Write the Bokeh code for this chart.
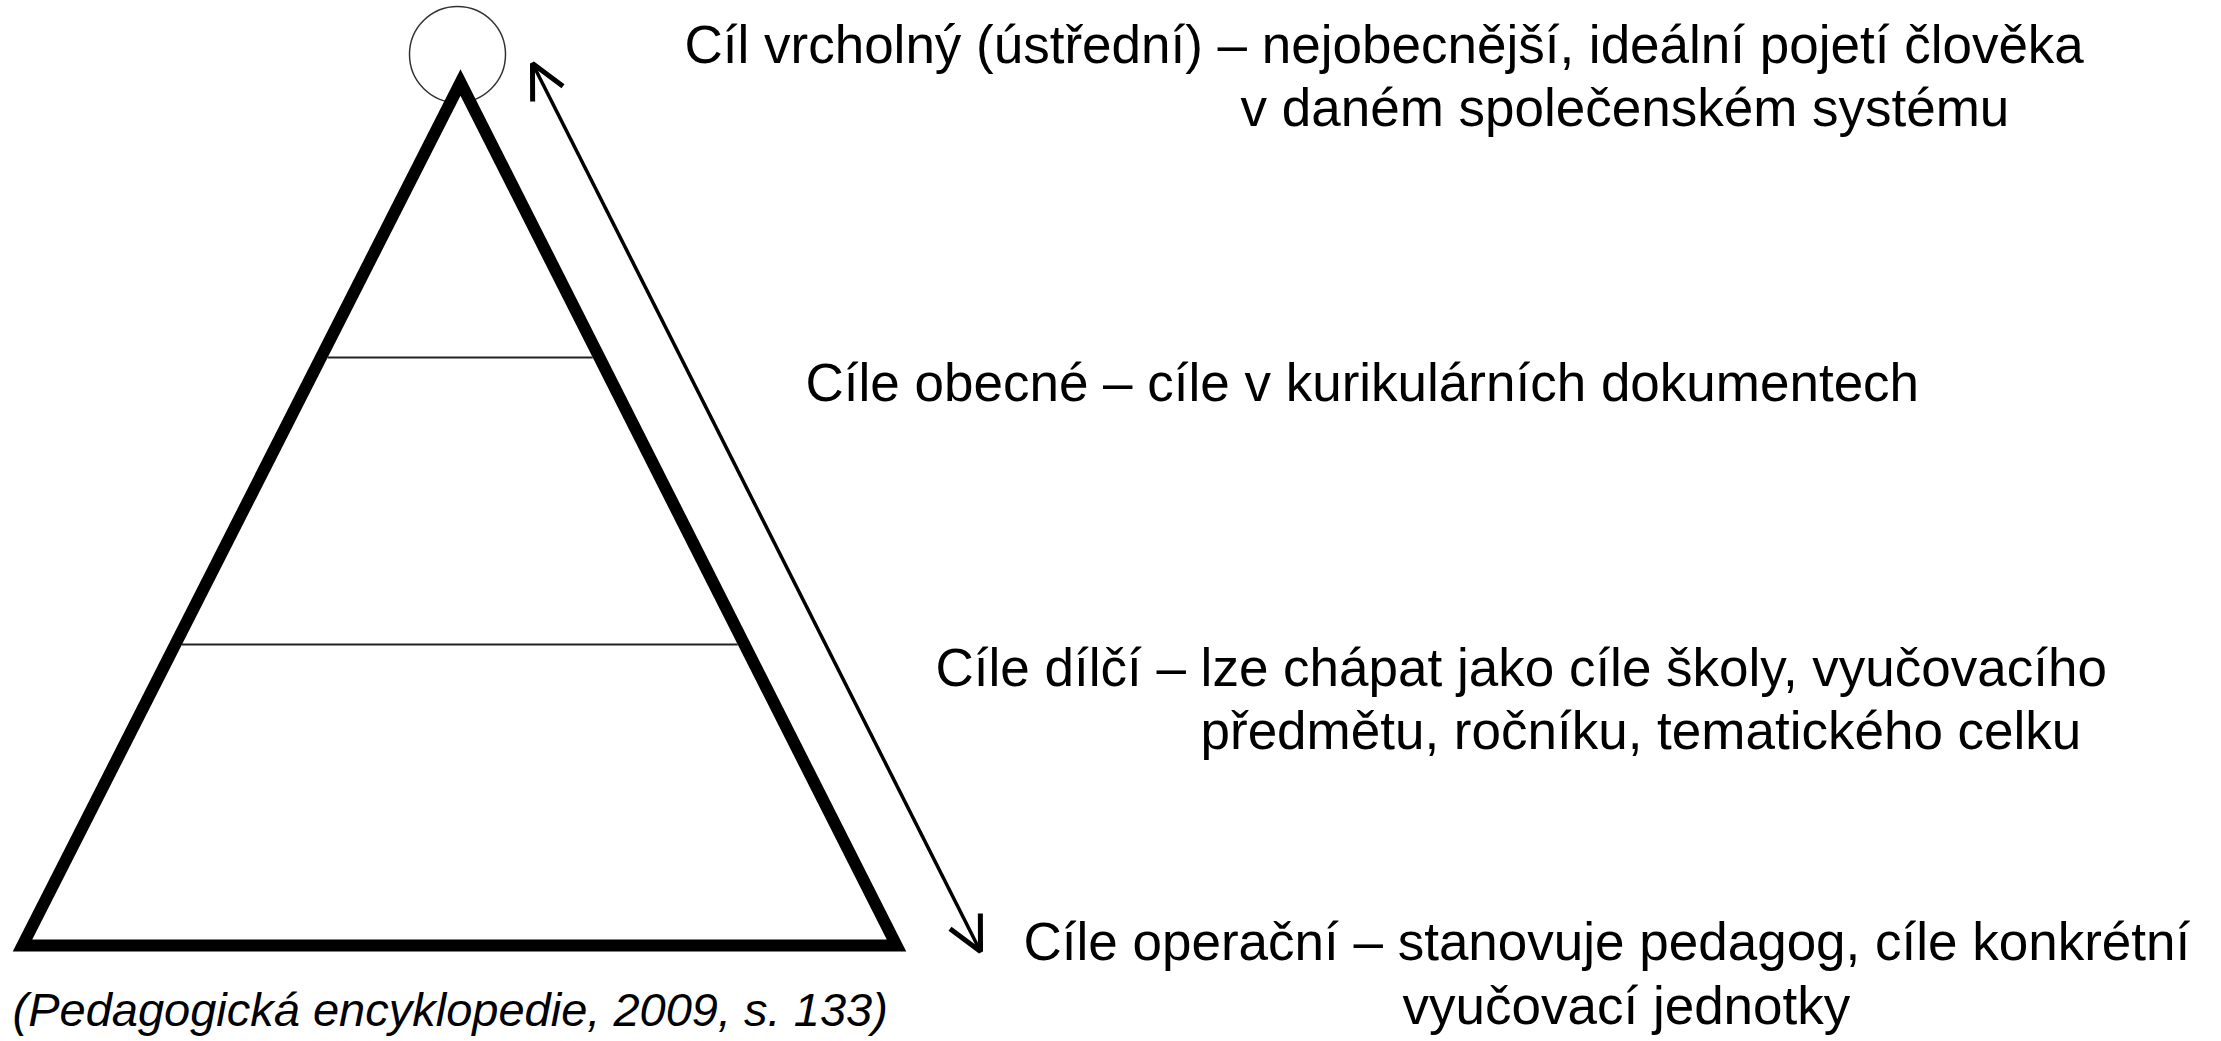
import math
from bokeh.plotting import figure
from bokeh.models import Range1d, Arrow, OpenHead
from bokeh.core.properties import value
from bokeh.embed import file_html
from bokeh.resources import INLINE

# ---- diagram data (reference pixel coordinates, y grows downward) ----
tri_x = [22, 460, 896]      # base-left, apex, base-right (stroke centre line)
tri_y = [945, 82, 945]
edge_half_width = 6         # half of the outline thickness
level_y = [357, 644]

circle_x = [457]
circle_y = [54]
circle_r = 48

arrow_start = (532, 63)
arrow_end = (980, 951)

labels = [
    "Cíl vrcholný (ústřední) – nejobecnější, ideální pojetí člověka",
    "v daném společenském systému",
    "Cíle obecné – cíle v kurikulárních dokumentech",
    "Cíle dílčí – lze chápat jako cíle školy, vyučovacího",
    "předmětu, ročníku, tematického celku",
    "Cíle operační – stanovuje pedagog, cíle konkrétní",
    "vyučovací jednotky",
]
label_x = [684, 1240, 805, 935, 1200, 1023, 1402]
label_y = [44, 107, 382, 667, 730, 941, 1005]

source_text = ["(Pedagogická encyklopedie, 2009, s. 133)"]
source_x = [12]
source_y = [1009]

# ---- figure ----
W, H = 2216, 1036
p = figure(width=W, height=H,
           x_range=Range1d(0, W), y_range=Range1d(H, 0),
           output_backend="svg", toolbar_location=None,
           x_axis_location=None, y_axis_location=None, title=None,
           min_border=0, min_border_left=0, min_border_right=0,
           min_border_top=0, min_border_bottom=0)
p.grid.visible = False
p.outline_line_color = None
p.background_fill_color = "white"
p.border_fill_color = "white"

# top circle
p.circle(x=circle_x, y=circle_y, radius=circle_r, fill_color=None,
         line_color="#333333", line_width=1.5)

# thick triangle outline with sharp (mitred) corners:
# outer polygon filled black, inner polygon filled white (offset about incentre)
A, B, C = list(zip(tri_x, tri_y))
a = math.dist(B, C); b = math.dist(A, C); c = math.dist(A, B)
per = a + b + c
ix = (a * A[0] + b * B[0] + c * C[0]) / per
iy = (a * A[1] + b * B[1] + c * C[1]) / per
area = abs((B[0] - A[0]) * (C[1] - A[1]) - (C[0] - A[0]) * (B[1] - A[1])) / 2
r_in = area / (per / 2)
k_out = (r_in + edge_half_width) / r_in
k_in = (r_in - edge_half_width) / r_in
outer_x = [ix + (x - ix) * k_out for x in tri_x]
outer_y = [iy + (y - iy) * k_out for y in tri_y]
inner_x = [ix + (x - ix) * k_in for x in tri_x]
inner_y = [iy + (y - iy) * k_in for y in tri_y]
p.patch(x=outer_x, y=outer_y, fill_color="black", line_color=None)
p.patch(x=inner_x, y=inner_y, fill_color="white", line_color=None)

# level lines inside triangle (ends on the inner edges)
x0s, x1s = [], []
for ly in level_y:
    t = (ly - inner_y[1]) / (inner_y[0] - inner_y[1])
    x0s.append(inner_x[1] + t * (inner_x[0] - inner_x[1]))
    x1s.append(inner_x[1] + t * (inner_x[2] - inner_x[1]))
p.segment(x0=x0s, y0=level_y, x1=x1s, y1=level_y, line_color="#222222", line_width=2)

# double-headed arrow
p.add_layout(Arrow(start=OpenHead(size=34, line_width=5, line_color="black"),
                   end=OpenHead(size=34, line_width=5, line_color="black"),
                   x_start=arrow_start[0], y_start=arrow_start[1],
                   x_end=arrow_end[0], y_end=arrow_end[1],
                   line_width=3.5, line_color="black"))

# labels
p.text(x=label_x, y=label_y, text=labels,
       text_font=value("Liberation Sans"), text_font_size="53px",
       text_baseline="alphabetic", text_align="left", text_color="black")

p.text(x=source_x, y=source_y, text=source_text,
       text_font=value("Liberation Sans"), text_font_size="47px",
       text_font_style="italic",
       text_baseline="alphabetic", text_align="left", text_color="black")

open("out.html", "w").write(file_html(p, INLINE))
